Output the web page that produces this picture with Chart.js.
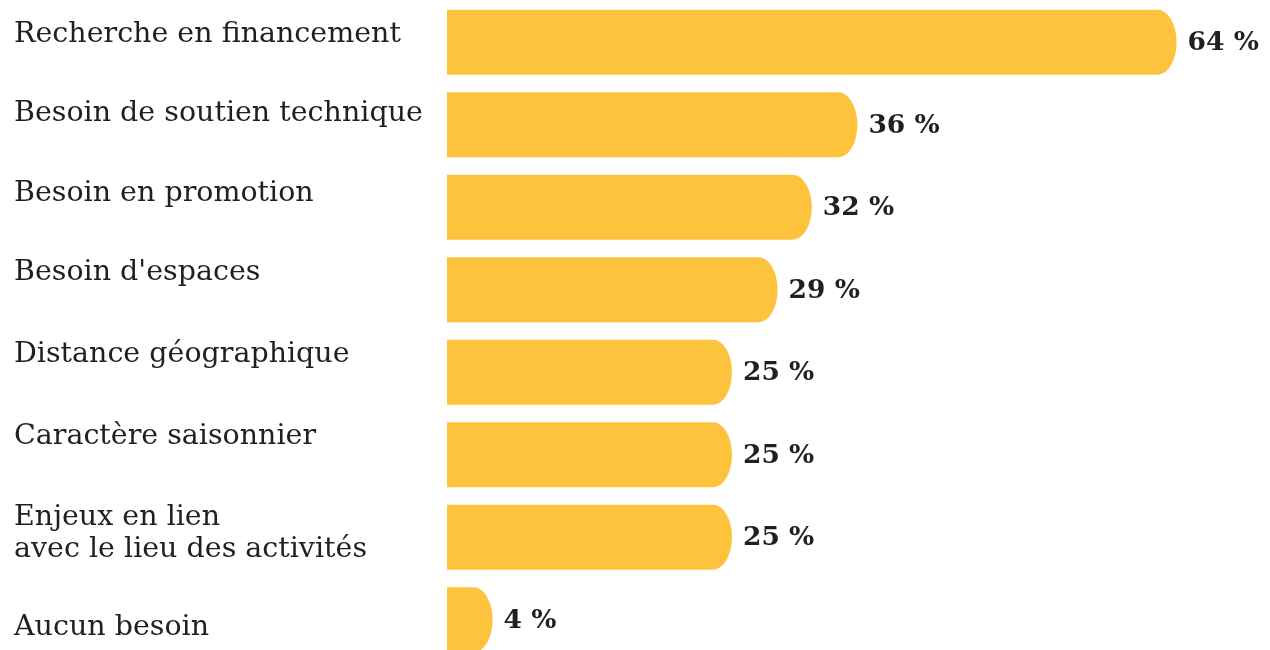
<!DOCTYPE html>
<html>
<head>
<meta charset="utf-8">
<script src="https://cdn.jsdelivr.net/npm/chart.js@4.4.1/dist/chart.umd.min.js"></script>
<style>
  html, body { margin: 0; padding: 0; background: #ffffff; overflow: hidden; }
  #wrap { width: 1270px; height: 661px; }
</style>
</head>
<body>
<div id="wrap"><canvas id="c" width="1270" height="661"></canvas></div>
<script>
const categories = [
  ["Recherche en financement"],
  ["Besoin de soutien technique"],
  ["Besoin en promotion"],
  ["Besoin d'espaces"],
  ["Distance géographique"],
  ["Caractère saisonnier"],
  ["Enjeux en lien", "avec le lieu des activités"],
  ["Aucun besoin"]
];
const values = [64, 36, 32, 29, 25, 25, 25, 4];
const valueLabels = values.map(v => v + " %");

const BAR_COLOR = "#FEC33C";
const TEXT_COLOR = "#231f20";

const customBars = {
  id: "customBars",
  beforeDatasetsDraw(chart) {
    const ctx = chart.ctx;
    const meta = chart.getDatasetMeta(0);
    ctx.save();
    ctx.fillStyle = BAR_COLOR;
    meta.data.forEach(el => {
      const p = el.getProps(["x", "y", "base", "height"], true);
      const top = p.y - p.height / 2;
      const bot = p.y + p.height / 2;
      const rx = Math.min(19, (p.x - p.base));
      ctx.beginPath();
      ctx.moveTo(p.base, top);
      ctx.lineTo(p.x - rx, top);
      ctx.ellipse(p.x - rx, p.y, rx, p.height / 2, 0, -Math.PI / 2, Math.PI / 2);
      ctx.lineTo(p.base, bot);
      ctx.closePath();
      ctx.fill();
    });
    ctx.restore();
    return false;
  },
  afterDraw(chart, args, opts) {
    const ctx = chart.ctx;
    const meta = chart.getDatasetMeta(0);
    ctx.save();
    ctx.fillStyle = TEXT_COLOR;
    ctx.font = opts.catFont;
    ctx.textAlign = "left";
    ctx.textBaseline = "middle";
    meta.data.forEach((el, i) => {
      const lines = chart.data.labels[i];
      const lh = opts.lineHeight;
      const yc = el.y + opts.catShift[i];
      const y0 = yc - (lines.length - 1) * lh / 2;
      lines.forEach((t, j) => ctx.fillText(t, opts.catX, y0 + j * lh));
    });
    ctx.font = opts.valFont;
    meta.data.forEach((el, i) => {
      ctx.fillText(valueLabels[i], el.x + opts.valGap, el.y + 1);
    });
    ctx.restore();
  }
};

new Chart(document.getElementById("c"), {
  type: "bar",
  data: {
    labels: categories,
    datasets: [{
      data: values,
      backgroundColor: BAR_COLOR,
      barPercentage: 0.79,
      categoryPercentage: 1
    }]
  },
  options: {
    indexAxis: "y",
    responsive: false,
    animation: false,
    devicePixelRatio: 1,
    layout: { padding: { left: 447, right: 25, top: 1, bottom: 0 } },
    scales: {
      x: { display: false, min: 0, max: 70 },
      y: { display: false }
    },
    plugins: {
      legend: { display: false },
      tooltip: { enabled: false },
      customBars: {
        catFont: "28.5px 'DejaVu Serif'",
        valFont: "bold 26.5px 'DejaVu Serif'",
        catX: 14,
        lineHeight: 32,
        valGap: 11,
        catShift: [-8, -11, -14, -17, -18, -18, -4, 8]
      }
    }
  },
  plugins: [customBars]
});
</script>
</body>
</html>
